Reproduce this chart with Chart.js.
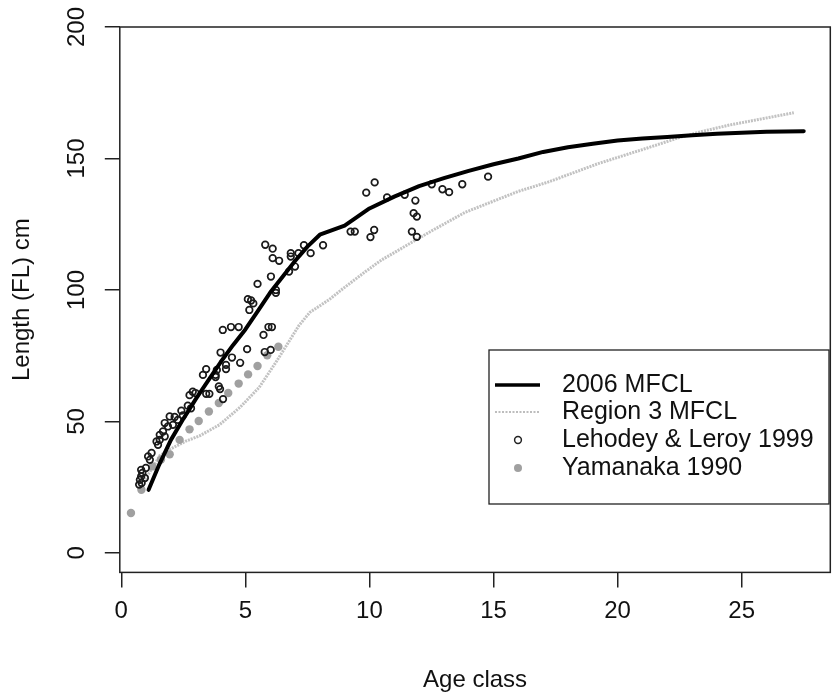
<!DOCTYPE html>
<html lang="en">
<head>
  <meta charset="UTF-8">
  <title>Length at age</title>
  <script src="https://cdn.jsdelivr.net/npm/chart.js"></script>
  <style>
    body { margin: 0; background: #fff; }
    #wrap { width: 836px; height: 698px; }
  </style>
</head>
<body>
  <div id="wrap"><canvas id="growthChart"></canvas></div>

  <script>
    // axis ticks
    const xTicks = [0, 5, 10, 15, 20, 25];
    const yTicks = [0, 50, 100, 150, 200];

    // 2006 MFCL growth curve
    const mfclAge = [1.1, 1.5, 2.0, 2.5, 3.0, 3.5, 4.0, 4.5, 5.0, 5.5, 6.0, 6.5, 7.0, 7.5, 8.0, 9.0, 10.0, 11.0, 12.0, 13.0, 14.0, 15.0, 16.0, 17.0, 18.0, 19.0, 20.0, 21.0, 22.0, 23.0, 24.0, 25.0, 26.0, 27.5];
    const mfclLen = [24, 33, 43, 51, 58.5, 65.5, 72.5, 79, 85, 92, 99, 105, 111, 116.5, 121, 124.5, 131, 135.5, 139.5, 142.5, 145.3, 147.8, 150, 152.5, 154.3, 155.6, 156.8, 157.6, 158.2, 158.8, 159.4, 159.8, 160.2, 160.4];

    // Region 3 MFCL growth curve
    const region3Age = [0.9, 1.3, 1.55, 2.08, 2.6, 3.15, 3.95, 4.8, 5.56, 6.23, 6.63, 7.16, 7.6, 8.37, 9.0, 9.84, 10.5, 11.18, 12.51, 13.85, 15.19, 16.0, 17.19, 18.2, 19.2, 20.2, 21.2, 22.5, 23.5, 24.5, 25.88, 27.1];
    const region3Len = [27, 33, 37, 40, 42.5, 44.5, 48.7, 55.5, 63, 72.5, 78.5, 86.5, 91.5, 96.3, 101, 107, 111.5, 115.2, 122.5, 129.5, 134.5, 137.5, 141, 144.5, 148, 151, 154, 158, 160.5, 162.7, 165.2, 167.4];

    // Lehodey & Leroy 1999 (open circles)
    const lehodeyAge = [0.8, 0.85, 0.8, 0.75, 0.82, 0.72, 0.99, 0.95, 1.22, 1.08, 1.15, 1.42, 1.48, 1.55, 1.68, 1.75, 1.55, 1.75, 1.88, 2.08, 1.95, 2.15, 2.28, 2.42, 2.48, 2.68, 2.81, 2.75, 2.88, 2.99, 3.42, 3.55,
      3.29, 3.42, 3.8, 3.8, 3.85, 3.93, 3.98, 4.1, 4.22, 4.22, 4.46, 4.79, 4.0, 5.07, 4.09, 4.42, 4.73, 5.1, 5.23, 5.32, 5.16, 5.49, 5.93, 6.07, 5.73, 5.78, 6.02, 6.23, 6.23, 6.03, 6.76, 7.0,
      5.8, 6.1, 6.1, 6.36, 6.83, 6.83, 7.14, 7.36, 7.63, 8.13, 9.24, 9.41, 10.04, 10.19, 9.87, 10.21, 10.71, 11.42, 11.85, 11.78, 11.91, 11.71, 11.91, 12.51, 12.94, 13.21, 13.74, 14.78];
    const lehodeyLen = [31.6, 30.4, 29.1, 27.8, 26.6, 26, 32.3, 28.5, 38, 36.7, 35.4, 42.4, 41.1, 43, 46.2, 44.3, 44.9, 49.4, 48.1, 48.7, 51.9, 51.7, 50.6, 54.1, 52.3, 56, 55, 60, 61.3, 60.8, 60.5, 60.5,
      67.7, 69.9, 67.7, 66.9, 69.6, 63.3, 62.3, 58.5, 71.5, 69.9, 74.3, 72.3, 76.2, 77.5, 84.8, 85.9, 85.9, 96.5, 96, 94.9, 92.4, 102.3, 85.9, 85.9, 82.9, 76.4, 77.2, 100, 98.9, 105.1, 107, 108.9,
      117.2, 115.7, 112.1, 111.1, 114, 112.7, 114, 117, 114, 117, 122.2, 122.2, 120.1, 122.8, 137, 140.9, 135.2, 136.2, 134, 129.2, 127.9, 122.2, 120.2, 140.2, 138.3, 137.2, 140.2, 143.1];

    // Yamanaka 1990 (filled grey)
    const yamanakaAge = [0.39, 0.81, 1.25, 1.6, 1.95, 2.35, 2.75, 3.12, 3.53, 3.93, 4.31, 4.73, 5.11, 5.49, 5.88, 6.33];
    const yamanakaLen = [15.2, 24, 32.9, 35.5, 37.5, 43, 47, 50.2, 53.8, 57, 60.8, 64.4, 67.9, 71.1, 75.2, 78.4];

    const FONT = 'Liberation Sans, Arial, Helvetica, sans-serif';
    const INK = '#111';
    const FS = 24;

    function toPoints(xs, ys) {
      return xs.map((x, i) => ({ x: x, y: ys[i] }));
    }

    // box around the plotting region (R style)
    const boxPlugin = {
      id: 'box',
      afterDatasetsDraw(chart) {
        const { ctx, chartArea: a } = chart;
        ctx.save();
        ctx.strokeStyle = '#222';
        ctx.lineWidth = 1.5;
        ctx.strokeRect(a.left, a.top, a.right - a.left, a.bottom - a.top);
        ctx.restore();
      }
    };

    // rotated y tick labels, as R draws them
    const yLabelPlugin = {
      id: 'yLabels',
      afterDraw(chart) {
        const { ctx } = chart;
        const y = chart.scales.y;
        ctx.save();
        ctx.fillStyle = INK;
        ctx.font = FS + 'px ' + FONT;
        ctx.textAlign = 'center';
        ctx.textBaseline = 'middle';
        yTicks.forEach(v => {
          ctx.save();
          ctx.translate(77, y.getPixelForValue(v));
          ctx.rotate(-Math.PI / 2);
          ctx.fillText(String(v), 0, 0);
          ctx.restore();
        });
        ctx.restore();
      }
    };

    // legend box inside the plot
    const legendPlugin = {
      id: 'boxLegend',
      afterDraw(chart) {
        const { ctx } = chart;
        const left = 489, top = 350, right = 829, bottom = 504;
        ctx.save();
        ctx.fillStyle = '#fff';
        ctx.fillRect(left, top, right - left, bottom - top);
        ctx.strokeStyle = '#222';
        ctx.lineWidth = 1.3;
        ctx.strokeRect(left, top, right - left, bottom - top);

        const rows = [385, 412, 440, 468];
        // 2006 MFCL
        ctx.strokeStyle = '#000';
        ctx.lineWidth = 3.5;
        ctx.beginPath(); ctx.moveTo(495, rows[0]); ctx.lineTo(540, rows[0]); ctx.stroke();
        // Region 3 MFCL
        ctx.strokeStyle = '#bdbdbd';
        ctx.lineWidth = 2;
        ctx.setLineDash([2, 1.5]);
        ctx.beginPath(); ctx.moveTo(495, rows[1]); ctx.lineTo(540, rows[1]); ctx.stroke();
        ctx.setLineDash([]);
        // Lehodey
        ctx.strokeStyle = '#222';
        ctx.lineWidth = 1.5;
        ctx.beginPath(); ctx.arc(518, rows[2], 3.4, 0, Math.PI * 2); ctx.stroke();
        // Yamanaka
        ctx.fillStyle = '#a0a0a0';
        ctx.beginPath(); ctx.arc(518, rows[3], 4, 0, Math.PI * 2); ctx.fill();

        ctx.fillStyle = INK;
        ctx.font = '25px ' + FONT;
        ctx.textAlign = 'left';
        ctx.textBaseline = 'middle';
        const names = ['2006 MFCL', 'Region 3 MFCL', 'Lehodey & Leroy 1999', 'Yamanaka 1990'];
        names.forEach((t, i) => ctx.fillText(t, 562, rows[i]));
        ctx.restore();
      }
    };

    const ctx = document.getElementById('growthChart').getContext('2d');
    new Chart(ctx, {
      type: 'scatter',
      data: {
        datasets: [
          {
            label: '2006 MFCL',
            data: toPoints(mfclAge, mfclLen),
            showLine: true,
            borderColor: '#000',
            borderWidth: 4,
            pointRadius: 0,
            tension: 0,
            borderCapStyle: 'round',
            borderJoinStyle: 'round'
          },
          {
            label: 'Lehodey & Leroy 1999',
            data: toPoints(lehodeyAge, lehodeyLen),
            pointRadius: 3.3,
            pointBorderWidth: 1.7,
            pointBorderColor: '#1a1a1a',
            pointBackgroundColor: 'rgba(255,255,255,0)'
          },
          {
            label: 'Yamanaka 1990',
            data: toPoints(yamanakaAge, yamanakaLen),
            pointRadius: 4.2,
            pointBorderWidth: 0,
            pointBackgroundColor: '#a0a0a0'
          },
          {
            label: 'Region 3 MFCL',
            data: toPoints(region3Age, region3Len),
            showLine: true,
            borderColor: '#c2c2c2',
            borderWidth: 3,
            borderDash: [2, 1],
            pointRadius: 0,
            tension: 0
          }
        ]
      },
      options: {
        responsive: true,
        maintainAspectRatio: false,
        animation: false,
        layout: { padding: { top: 27, right: 2, bottom: 0, left: 0 } },
        plugins: {
          legend: { display: false },
          tooltip: { enabled: false }
        },
        scales: {
          x: {
            type: 'linear',
            min: -0.06,
            max: 28.57,
            afterBuildTicks: s => { s.ticks = xTicks.map(v => ({ value: v })); },
            afterFit: s => { s.paddingRight = 0; },
            grid: { display: true, drawOnChartArea: false, drawTicks: true, tickLength: 15, color: '#222', lineWidth: 1.5 },
            border: { display: false },
            ticks: { color: INK, font: { family: FONT, size: FS }, padding: 10, maxRotation: 0 },
            title: { display: true, text: 'Age class', color: INK, font: { family: FONT, size: FS }, padding: { top: 30, bottom: 3 } }
          },
          y: {
            type: 'linear',
            min: -7.4,
            max: 200,
            afterBuildTicks: s => { s.ticks = yTicks.map(v => ({ value: v })); },
            grid: { display: true, drawOnChartArea: false, drawTicks: true, tickLength: 15, color: '#222', lineWidth: 1.5 },
            border: { display: false },
            ticks: { display: false },
            title: { display: true, text: 'Length (FL) cm', color: INK, font: { family: FONT, size: FS }, padding: { top: 8, bottom: 68 } }
          }
        }
      },
      plugins: [boxPlugin, yLabelPlugin, legendPlugin]
    });
  </script>
</body>
</html>
